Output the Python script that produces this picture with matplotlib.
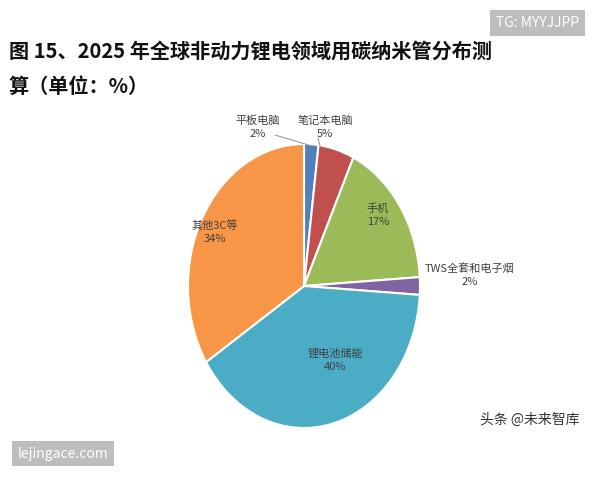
import matplotlib.pyplot as plt

plt.rcParams['font.family'] = ['Noto Sans CJK SC', 'DejaVu Sans']

labels = ['平板电脑', '笔记本电脑', '手机', 'TWS全套和电子烟', '锂电池储能', '其他3C等']
values = [2, 5, 17, 2, 40, 34]
colors = ['#4F81BD', '#C0504D', '#9BBB59', '#8064A2', '#4BACC6', '#F79646']
# label anchor points in reference pixels
label_px = [(258, 127), (325, 127), (378, 215), (470, 275), (335, 360), (215, 232)]

CX, CY, RX, RY = 304, 286, 116, 142

fig = plt.figure(figsize=(6, 4.8), dpi=100)
ax = fig.add_axes([(CX - RX) / 600, (480 - CY - RY) / 480, 2 * RX / 600, 2 * RY / 480])
ax.pie(values, colors=colors, startangle=90, counterclock=False,
       wedgeprops=dict(edgecolor='white', linewidth=1.5))
ax.set_xlim(-1, 1)
ax.set_ylim(-1, 1)
ax.set_aspect('auto')

for lab, v, (px, py) in zip(labels, values, label_px):
    ax.text((px - CX) / RX, (CY - py) / RY, f'{lab}\n{v}%', ha='center', va='center',
            fontsize=8, color='#404040', linespacing=1.4, clip_on=False)

# leader lines for the small outside labels
ax.plot([(275 - CX) / RX, 0.05], [(CY - 135) / RY, 0.99], color='#909090', lw=0.7, clip_on=False)
ax.plot([(318 - CX) / RX, 0.14], [(CY - 138) / RY, 0.98], color='#909090', lw=0.7, clip_on=False)

fig.text(0.015, 0.893, '图 15、2025 年全球非动力锂电领域用碳纳米管分布测', fontsize=14.5,
         fontweight='bold', color='#111111', va='center')
fig.text(0.015, 0.82, '算（单位：%）', fontsize=14.5, fontweight='bold', color='#111111', va='center')

fig.text(0.965, 0.952, 'TG: MYYJJPP', fontsize=10, color='white', ha='right', va='center',
         bbox=dict(boxstyle='square,pad=0.4', fc='#BDBDBD', ec='none'))
fig.text(0.03, 0.055, 'lejingace.com', fontsize=10, color='white', ha='left', va='center',
         bbox=dict(boxstyle='square,pad=0.4', fc='#BDBDBD', ec='none'))
fig.text(0.80, 0.125, '头条 @未来智库', fontsize=10, color='#333333', ha='left', va='center')

fig.savefig('out.png', dpi=100, facecolor='white')
